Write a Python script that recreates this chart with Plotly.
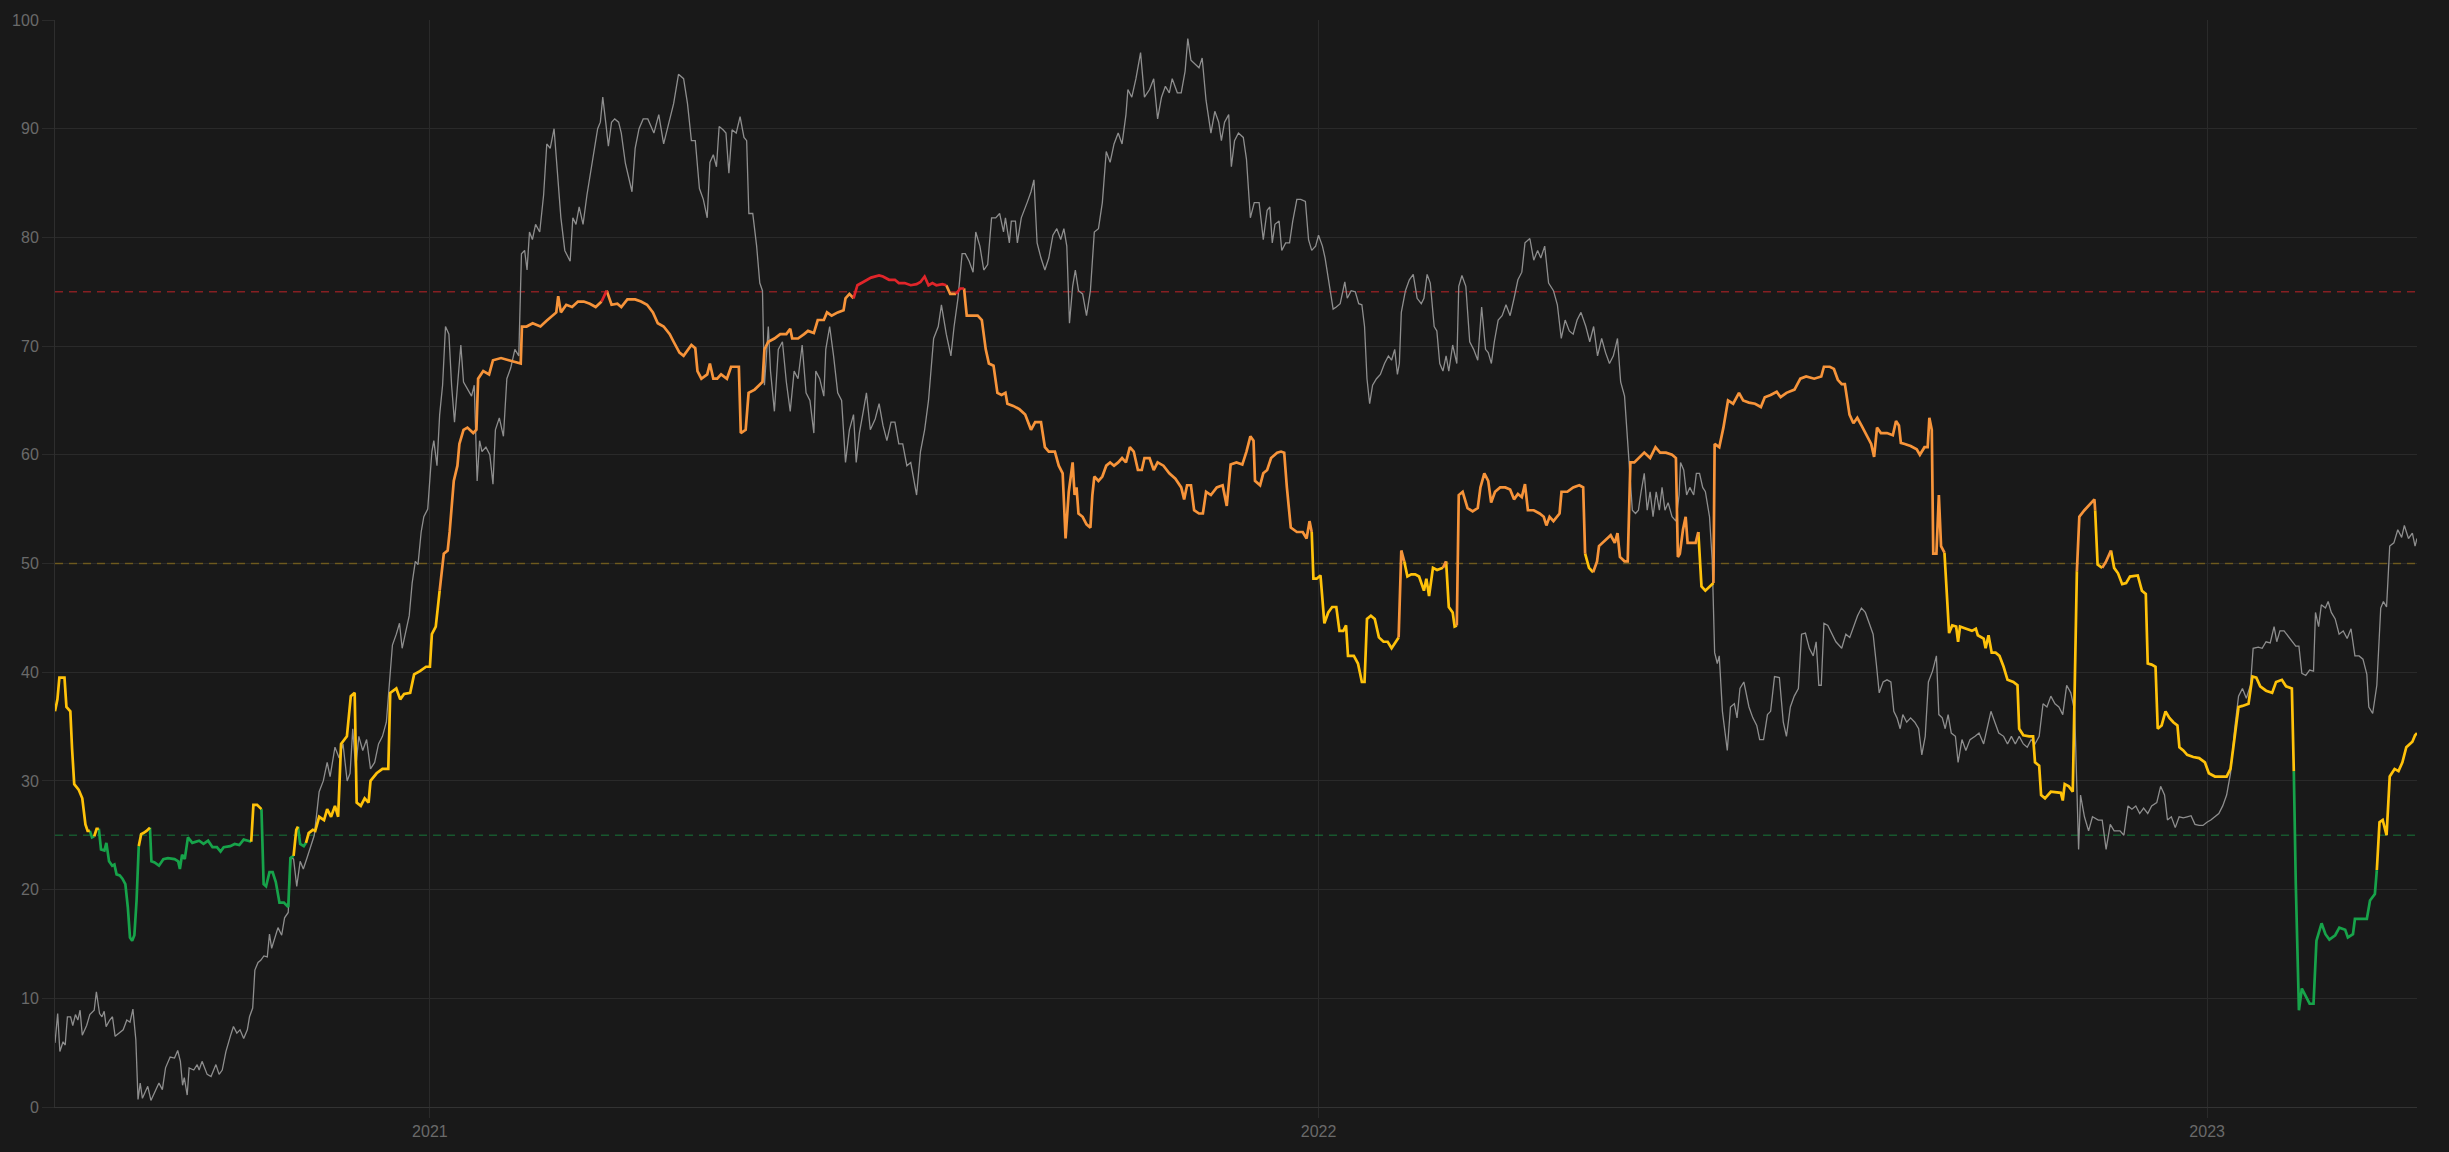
import pandas as pd
import plotly.graph_objects as go

START = "2020-07-31"
END_DAY = 970.2

# daily index (thin grey line): day offset from START, value
grey_days = [0.0,1.1,2.0,3.3,4.2,5.1,6.4,7.3,8.4,9.4,10.3,11.2,13.0,14.3,16.1,17.0,18.3,19.3,20.2,21.0,22.5,23.6,24.7,26.6,28.0,29.5,30.8,32.0,33.2,34.1,35.0,35.9,38.1,39.4,40.9,42.7,44.1,45.4,47.3,49.1,50.4,51.5,52.4,53.1,54.3,55.1,57.0,58.4,59.2,60.4,62.5,64.1,66.1,67.4,68.7,70.2,72.0,73.3,74.7,76.0,77.5,79.0,79.9,81.2,82.1,83.4,84.5,85.8,87.2,88.1,89.0,90.3,91.6,93.1,94.3,95.8,
    96.9,98.0,99.3,100.7,102.0,103.5,105.3,106.5,108.5,110.2,111.8,113.0,115.0,116.7,118.3,120.0,121.2,122.3,123.5,124.8,126.4,128.0,129.6,131.3,132.9,134.5,136.1,137.4,138.6,140.2,141.5,142.6,144.3,145.5,146.7,148.0,149.1,150.4,151.5,153.1,154.8,155.6,156.9,158.0,159.2,160.4,161.8,162.9,164.1,165.4,166.7,167.8,169.4,171.1,172.2,173.4,174.4,175.4,177.0,178.6,179.9,180.9,182.5,184.2,185.6,187.2,188.9,190.5,191.6,192.9,193.9,194.9,196.1,197.4,199.1,200.7,202.0,203.4,205.0,206.7,207.8,209.4,211.6,212.7,214.0,215.3,216.9,218.5,220.2,221.4,222.9,224.0,225.0,226.2,227.3,228.6,229.9,231.5,232.6,234.3,235.9,237.0,238.3,239.9,241.6,
    243.5,246.0,248.0,250.0,252.5,254.1,256.1,258.2,259.8,261.4,263.0,264.7,266.3,267.9,269.0,270.4,271.7,272.8,274.4,275.6,276.8,278.1,279.8,281.4,283.0,284.1,285.0,286.6,288.2,289.5,290.6,291.4,293.0,293.9,295.5,297.1,298.8,300.4,302.0,303.6,305.2,306.9,308.5,310.1,311.7,312.5,314.1,315.8,316.6,318.2,319.8,321.5,323.1,324.7,326.3,328.0,329.1,330.4,332.0,333.3,334.9,336.9,338.5,340.1,341.7,343.4,345.0,346.6,348.2,349.9,351.5,353.9,355.5,357.2,358.8,360.9,362.8,364.1,366.1,368.0,369.3,370.9,372.6,373.9,375.5,377.1,378.2,379.9,381.5,383.1,384.7,386.4,388.0,389.6,390.4,392.0,392.8,394.5,395.3,396.9,399.3,400.9,402.1,403.4,405.0,406.6,408.2,409.9,411.5,413.1,414.4,415.6,416.7,418.0,419.1,420.4,422.1,423.7,425.3,426.9,428.6,430.2,431.8,433.4,435.0,436.7,438.3,439.9,440.7,442.3,444.0,445.9,447.5,449.6,451.3,452.9,454.5,456.1,457.7,458.9,461.0,462.6,464.2,465.3,466.6,468.3,469.9,471.2,472.8,474.8,476.4,478.0,479.1,480.4,482.1,483.2,484.5,486.1,488.1,489.4,491.0,492.6,494.6,
    496.3,497.9,499.0,500.0,501.1,502.8,503.9,505.5,507.1,508.4,510.1,511.7,513.6,514.9,516.2,517.8,519.0,520.6,521.7,523.4,525.0,526.3,527.9,529.8,530.8,532.4,534.1,535.5,536.8,537.9,538.9,540.0,541.2,542.8,544.4,546.1,547.7,549.0,550.3,551.4,552.2,553.0,554.7,556.3,557.9,559.5,561.2,562.3,563.6,564.9,566.5,567.6,568.8,570.1,571.4,572.5,574.1,575.8,576.6,577.9,579.5,581.1,582.7,584.4,586.0,587.6,588.7,590.0,591.2,592.8,594.4,596.0,597.7,599.3,600.9,602.5,603.8,605.8,607.4,609.0,610.3,611.9,613.5,615.5,617.1,618.7,620.3,622.0,623.6,625.2,626.8,628.8,630.4,632.0,633.6,635.3,636.9,638.5,640.1,641.8,643.1,644.7,646.0,647.1,647.9,649.2,650.4,651.5,652.8,654.0,655.2,656.4,657.7,659.0,660.1,661.3,662.6,664.2,665.8,667.1,667.7,669.0,670.2,671.5,673.1,674.2,675.5,676.8,677.9,679.6,680.7,681.7,682.8,683.6,684.9,686.9,688.2,689.8,690.9,692.1,693.7,695.8,697.4,699.0,700.2,701.8,703.4,704.7,706.3,708.3,709.9,711.2,712.8,714.4,716.1,717.4,719.0,720.6,722.2,723.4,724.5,725.5,726.6,728.2,729.9,731.5,733.9,735.6,737.2,738.8,740.4,
    742.0,743.6,745.2,746.8,748.1,749.3,750.9,752.5,754.1,755.3,756.6,757.9,759.0,760.6,762.2,763.9,765.5,766.8,768.2,769.5,771.2,772.8,773.8,775.2,776.4,777.6,778.9,780.6,781.7,783.3,784.9,786.6,788.7,790.3,792.2,793.5,795.2,796.8,798.4,800.4,802.0,803.6,805.2,806.8,808.5,810.1,811.7,813.3,815.0,816.6,818.2,819.8,821.5,823.1,824.7,826.3,828.0,829.6,830.4,831.2,832.0,833.6,835.3,836.9,839.3,840.9,842.5,844.2,845.8,848.2,849.8,851.5,853.1,854.7,856.3,857.9,859.6,861.2,863.3,864.9,866.5,867.7,869.3,870.9,872.5,874.2,875.8,877.4,879.0,880.7,882.3,883.9,885.5,887.2,888.8,890.4,892.0,893.6,895.3,896.9,898.5,900.1,901.8,902.9,905.0,906.6,908.2,909.9,911.5,912.6,913.9,915.6,917.2,918.8,920.4,921.7,922.9,924.5,926.1,927.7,928.5,929.8,930.9,932.6,933.7,935.0,936.6,938.2,939.9,941.5,943.1,944.7,946.4,948.0,949.6,950.4,952.0,953.7,955.3,956.4,957.7,959.0,960.7,962.3,963.9,965.0,966.7,968.3,969.4,970.2]
grey_vals = [5.9,8.6,5.1,6.0,5.7,8.3,8.3,7.5,8.5,8.0,8.9,6.6,7.5,8.5,8.9,10.6,8.6,8.3,8.8,7.4,8.0,8.3,6.5,6.8,7.1,8.0,7.8,9.0,6.2,0.7,2.2,0.8,1.9,0.6,1.4,2.2,1.6,3.6,4.6,4.5,5.2,4.2,2.0,2.7,1.1,3.6,3.4,3.9,3.4,4.2,3.0,2.8,3.9,3.0,3.4,5.1,6.5,7.4,6.8,7.1,6.3,7.1,8.3,9.1,12.6,13.3,13.5,13.9,13.8,15.9,14.6,15.5,16.5,15.8,17.4,17.9,
    23.0,22.8,20.3,22.6,21.9,22.9,24.2,25.0,29.0,30.0,31.7,30.4,33.1,32.1,33.4,30.0,30.7,34.8,31.1,34.1,32.8,33.8,31.1,31.7,33.4,34.1,35.4,39.5,42.5,43.5,44.5,42.2,43.8,45.2,48.2,50.2,49.9,52.9,54.3,55.0,60.3,61.3,59.0,63.7,66.4,71.8,71.1,66.4,63.0,66.4,70.1,66.7,66.0,65.4,66.4,57.6,61.3,60.3,60.7,60.0,57.3,62.3,63.4,61.7,67.0,68.0,69.7,69.1,78.5,78.8,77.0,80.5,79.8,81.2,80.5,83.9,88.6,88.2,90.0,84.5,81.8,78.8,77.8,81.8,81.2,82.8,81.2,83.9,86.2,88.2,90.0,90.6,92.9,90.6,88.4,90.6,90.9,90.6,89.6,86.8,85.2,84.2,88.2,90.0,90.9,
    90.9,89.6,91.3,88.6,90.9,92.3,95.0,94.6,92.3,88.9,88.9,84.5,83.5,81.8,86.9,87.6,86.5,90.2,89.9,89.6,85.9,89.9,89.6,91.1,89.2,88.9,82.2,82.2,79.2,75.8,75.1,66.4,71.8,67.7,64.0,69.7,70.4,66.7,64.0,67.7,67.0,70.1,65.7,65.0,62.0,67.7,67.0,65.4,69.7,71.8,69.1,65.7,65.0,59.3,62.3,63.7,59.3,62.0,64.0,65.7,62.3,63.3,64.7,62.7,61.3,63.0,63.0,61.0,61.0,59.0,59.3,56.3,60.3,62.3,65.0,70.7,71.8,73.8,71.1,69.1,71.8,74.4,78.5,78.5,77.8,76.8,80.5,79.2,77.0,77.5,81.8,81.8,82.2,80.5,81.8,79.5,81.5,81.5,79.5,81.8,83.2,84.2,85.3,79.5,78.1,77.0,78.1,80.2,80.8,79.8,80.8,79.2,72.1,75.5,77.0,75.1,74.8,72.8,75.1,80.5,80.8,83.2,87.9,86.9,88.6,89.6,88.6,91.3,93.6,92.9,94.6,97.0,92.9,93.6,94.6,90.9,92.9,93.9,93.3,94.6,93.3,93.3,95.3,98.3,96.3,95.9,95.6,96.5,92.6,89.6,91.6,90.6,88.9,90.6,91.3,86.5,88.9,89.6,89.2,87.2,81.8,83.2,83.2,
    79.8,82.5,82.8,79.5,81.2,81.5,78.8,79.5,79.5,81.5,83.5,83.5,83.3,79.8,78.8,79.2,80.2,79.2,78.1,75.5,73.4,73.6,73.9,75.9,74.4,75.1,75.0,73.9,73.8,71.8,67.0,64.7,66.4,67.0,67.4,68.4,69.1,68.7,69.7,67.4,68.4,73.1,75.1,76.1,76.6,74.4,73.9,74.4,76.6,75.8,71.8,71.4,68.4,67.7,69.1,67.7,70.1,68.4,75.5,76.5,75.5,70.4,69.7,68.7,73.6,69.7,69.4,68.4,70.4,72.4,72.8,73.8,72.8,74.4,76.1,76.8,79.5,79.9,77.9,78.8,78.1,79.2,75.8,75.1,73.8,70.7,72.4,71.4,71.1,72.4,73.1,71.8,70.4,71.8,69.1,70.7,69.4,68.4,69.1,70.7,66.7,65.4,61.0,57.6,54.9,54.6,54.9,56.6,58.3,54.9,56.6,54.3,56.6,54.9,57.0,54.9,55.6,54.3,53.9,56.3,59.3,58.6,56.3,57.0,56.3,58.3,58.3,57.0,56.6,54.3,50.3,41.8,40.8,41.5,36.4,32.8,36.8,37.1,35.8,38.5,39.1,36.8,35.8,35.1,33.8,33.8,36.1,36.4,39.6,39.5,35.4,34.1,36.8,37.8,38.5,43.5,43.6,42.2,41.5,42.8,38.8,38.8,44.5,44.3,43.5,42.8,42.2,43.5,43.2,44.2,45.2,
    45.9,45.5,44.5,43.5,40.8,38.1,39.1,39.3,39.1,36.4,35.8,34.8,36.1,35.4,35.8,35.4,34.8,32.4,34.1,39.1,40.1,41.5,36.1,35.8,34.8,36.1,34.4,34.1,31.7,33.8,32.8,33.8,34.1,34.4,33.4,34.8,36.4,35.4,34.4,34.1,33.4,34.1,33.4,34.1,33.4,33.1,33.8,33.4,34.1,37.1,36.8,37.8,37.1,36.8,36.1,38.8,38.1,36.4,29.0,23.7,28.7,26.7,25.4,26.7,26.4,26.4,23.7,26.0,25.4,25.4,25.0,27.7,27.4,27.7,27.0,27.5,27.0,27.7,28.0,29.5,28.7,26.4,26.7,25.7,26.7,26.6,26.7,26.8,26.0,25.9,25.9,26.2,26.4,26.7,27.0,27.7,28.7,30.7,34.8,37.8,38.5,37.6,38.8,42.2,42.3,42.2,42.8,42.7,44.2,42.8,43.8,43.8,43.3,42.8,42.4,42.4,39.9,39.7,40.2,40.1,45.5,44.2,46.2,45.9,46.5,45.5,44.9,43.5,43.8,43.1,44.0,41.5,41.5,41.2,39.8,36.8,36.2,38.8,45.9,46.5,46.0,51.6,51.9,53.1,52.4,53.5,52.3,52.8,51.6,52.3]

# smoothed index (thick line coloured by zone): day offset from START, value
avg_days = [0.0,1.0,1.8,3.9,4.7,6.3,7.0,7.9,9.7,11.2,12.5,13.4,14.3,15.2,16.1,17.1,18.0,18.9,20.3,21.1,22.2,23.5,24.4,25.3,26.6,27.7,28.9,29.9,30.8,31.7,32.6,33.5,34.4,35.4,36.3,37.6,39.0,39.6,40.9,42.7,44.5,46.4,49.1,50.6,51.3,52.2,53.3,54.6,56.4,59.2,61.0,62.9,64.7,66.5,68.0,69.3,72.0,73.8,75.7,77.5,79.3,80.6,81.5,83.0,84.8,85.7,86.7,88.1,89.4,90.7,92.2,94.0,95.8,96.7,98.0,99.1,99.8,100.7,102.2,103.1,104.2,105.9,106.9,108.5,110.5,111.8,113.4,115.0,116.3,117.5,119.9,121.5,123.1,123.9,125.6,127.2,128.8,129.6,132.1,134.5,136.9,137.7,140.2,141.8,143.4,145.9,147.5,149.9,152.4,154.0,154.8,156.4,158.0,159.7,161.3,162.1,163.8,165.3,166.1,167.8,169.4,171.8,173.1,173.8,175.9,178.3,179.9,183.2,186.4,189.6,191.3,191.8,193.7,196.2,199.4,201.8,204.3,205.9,206.7,207.8,210.0,212.4,214.8,217.2,219.7,222.1,224.5,226.6,228.6,231.0,232.6,235.1,238.3,240.7,243.2,245.6,247.6,250.0,252.5,254.1,256.5,258.2,259.8,261.4,263.0,263.9,
    265.5,267.9,269.0,270.4,272.0,273.6,276.0,277.7,280.9,281.7,283.7,284.9,287.4,289.8,290.6,291.4,293.0,295.5,297.9,300.4,302.0,302.8,305.2,307.7,309.3,311.7,313.3,315.8,317.1,319.0,321.5,323.9,324.7,326.3,328.0,329.6,332.0,335.2,338.5,340.1,342.6,345.0,346.6,349.0,351.5,353.9,355.5,357.2,358.8,360.4,362.0,364.5,366.1,367.7,370.1,371.8,373.4,374.5,376.6,379.0,380.7,382.3,383.6,385.5,387.1,388.8,390.4,391.2,393.6,396.1,398.5,400.9,402.6,405.0,406.6,408.2,410.7,412.3,413.9,415.1,416.4,418.0,418.8,419.6,420.4,422.1,423.7,425.3,426.1,426.9,428.6,430.2,431.8,433.4,435.0,436.7,438.3,439.9,441.5,443.1,444.8,446.4,447.5,449.6,451.3,452.9,455.3,457.7,460.2,462.6,463.8,465.0,466.6,467.9,469.9,471.5,472.8,474.8,477.2,479.6,481.3,482.9,485.3,487.7,489.4,491.0,492.3,492.9,495.0,
    496.3,497.9,499.5,502.0,503.6,504.9,506.0,507.6,510.1,512.5,514.1,515.3,516.2,516.9,518.2,519.8,521.4,523.0,524.6,526.3,527.6,529.2,530.3,531.1,533.5,535.2,536.8,537.9,538.9,540.5,542.1,543.8,545.7,547.4,549.0,550.9,551.9,553.0,554.2,555.5,557.1,558.7,560.3,562.3,563.3,564.4,566.0,567.7,570.1,571.4,572.5,574.1,574.9,575.8,576.6,578.2,580.2,582.3,584.4,585.5,587.1,588.7,589.9,591.5,593.6,595.7,597.7,599.3,600.9,602.5,603.8,605.0,607.4,609.8,611.5,612.6,613.9,615.5,618.0,618.8,621.2,623.6,626.1,627.7,628.5,630.1,631.8,633.4,634.2,636.6,639.0,640.7,641.8,642.8,644.7,646.0,647.1,648.7,651.2,652.8,655.2,657.4,659.3,661.7,664.2,665.8,666.6,667.4,668.7,669.8,670.6,672.3,673.9,675.0,676.3,677.9,679.6,681.2,681.7,683.6,685.3,687.2,689.3,691.7,693.4,695.8,698.3,700.7,702.3,704.7,707.2,708.8,711.2,714.5,716.9,719.3,722.6,725.5,726.6,729.0,730.7,732.3,733.9,735.2,
    737.1,738.7,740.3,742.0,744.4,746.0,747.2,748.4,750.0,752.5,754.9,756.2,757.4,758.2,759.8,762.2,764.7,766.0,767.9,769.2,769.9,770.9,771.5,772.8,773.8,774.7,776.1,776.9,778.0,779.3,780.9,781.7,782.5,785.0,787.4,789.0,789.8,792.2,793.0,794.2,795.5,797.1,798.7,800.4,802.0,804.4,806.1,806.8,808.5,810.9,812.5,813.3,815.0,815.8,817.4,819.8,822.3,823.9,824.7,825.5,827.2,828.8,830.5,831.5,833.6,835.3,837.7,838.0,839.0,840.9,842.5,844.5,845.8,847.4,849.1,850.7,852.3,855.5,857.2,858.8,859.6,861.2,862.8,863.7,865.3,866.9,868.5,870.1,871.8,872.6,874.2,875.8,878.3,880.7,883.1,884.7,887.2,889.6,892.0,893.6,895.3,896.9,898.5,901.0,902.6,904.2,905.8,908.2,910.7,912.3,914.7,916.4,918.8,919.6,920.4,921.7,922.9,924.5,926.1,927.7,928.9,931.0,932.6,934.2,936.6,938.3,940.7,941.8,943.9,944.7,947.2,949.6,950.9,952.9,953.7,954.8,956.1,957.7,959.0,961.0,962.6,964.2,965.8,968.3,969.4,970.2]
avg_vals = [36.4,37.5,39.5,39.5,36.8,36.4,33.0,29.7,29.2,28.4,26.0,25.4,25.4,24.8,24.9,25.6,25.6,23.7,23.6,24.3,22.6,22.2,22.3,21.4,21.3,21.0,20.5,18.4,15.6,15.3,15.8,19.0,24.0,25.1,25.2,25.4,25.7,22.6,22.5,22.2,22.8,22.9,22.8,22.6,21.9,23.2,22.8,24.8,24.3,24.5,24.2,24.5,23.9,23.9,23.5,23.9,24.0,24.2,24.1,24.6,24.5,24.4,27.8,27.8,27.4,20.5,20.3,21.6,21.6,20.7,18.8,18.8,18.4,22.9,23.1,25.5,25.8,24.2,24.0,24.3,25.2,25.5,25.4,26.7,26.4,27.4,26.7,27.7,26.7,33.4,34.1,37.8,38.1,28.0,27.7,28.4,28.0,30.0,30.7,31.1,31.1,38.1,38.5,37.5,38.0,38.1,39.8,40.1,40.5,40.5,43.5,44.2,47.5,50.9,51.2,52.9,57.6,59.0,61.0,62.3,62.5,62.0,62.3,67.0,67.7,67.4,68.7,68.9,68.7,68.5,68.4,71.8,71.8,72.1,71.8,72.3,72.8,73.1,74.6,73.1,73.8,73.6,74.1,74.1,73.9,73.6,74.1,75.1,73.8,73.9,73.6,74.3,74.3,74.1,73.8,73.1,72.1,71.8,71.1,70.4,69.4,69.1,69.6,70.1,69.8,67.7,
    67.0,67.4,68.4,67.0,67.0,67.4,67.0,68.1,68.1,62.0,62.3,65.7,66.0,66.5,66.7,69.7,70.4,70.7,71.1,71.1,71.6,70.7,70.7,71.1,71.4,71.2,72.4,72.4,73.1,72.8,73.1,73.3,74.4,74.8,74.4,75.6,75.9,76.3,76.5,76.4,76.1,76.1,75.8,75.8,75.6,75.7,75.9,76.4,75.6,75.8,75.6,75.7,75.6,74.8,74.8,75.3,75.3,72.8,72.8,72.8,72.4,69.7,68.4,68.2,65.7,65.5,65.7,64.7,64.5,64.2,63.7,62.3,63.0,63.0,60.7,60.3,60.3,59.0,58.3,52.3,56.6,59.3,56.3,57.0,54.6,54.3,53.6,53.3,56.3,58.0,57.6,58.0,59.0,59.3,59.0,59.3,59.7,59.3,60.7,60.3,58.6,58.6,59.7,59.7,58.6,59.3,59.0,58.3,57.8,57.0,55.9,57.2,57.2,54.9,54.6,54.6,56.6,56.3,57.0,57.2,55.3,59.1,59.3,59.1,60.3,61.7,61.3,57.6,57.2,
    58.3,58.6,59.7,60.2,60.3,60.2,57.0,53.3,52.9,52.9,52.3,53.9,52.9,48.6,48.6,48.9,44.5,45.5,46.0,46.0,43.8,43.8,44.3,41.5,41.5,40.8,39.1,39.1,44.9,45.2,44.9,43.2,42.8,42.8,42.2,42.8,43.2,51.2,50.2,48.8,49.0,49.0,48.8,47.5,48.6,47.0,49.6,49.4,49.6,50.2,46.0,45.5,44.2,44.3,56.3,56.6,55.1,54.8,55.1,57.0,58.3,57.6,55.6,56.6,57.0,57.0,56.8,55.9,56.4,56.1,57.3,54.9,54.9,54.6,54.3,53.5,54.3,53.9,54.6,56.6,56.6,57.0,57.2,57.0,50.9,49.6,49.2,50.2,51.6,52.1,52.6,51.9,52.8,50.6,50.2,50.2,59.3,59.3,59.8,60.2,59.7,60.7,60.2,60.2,60.0,59.7,50.6,50.9,53.1,54.3,51.9,51.9,51.9,52.9,47.9,47.5,47.9,48.2,61.0,60.7,62.5,65.0,64.7,65.7,65.0,64.8,64.7,64.4,65.3,65.5,65.8,65.3,65.7,66.0,67.0,67.2,67.0,67.2,68.1,68.1,67.9,66.9,66.5,66.5,
    63.7,62.9,63.4,62.7,61.6,61.0,59.8,62.5,62.0,62.0,61.8,63.1,62.7,61.1,61.0,60.8,60.5,60.0,60.7,60.7,63.4,62.3,50.9,50.9,56.3,51.6,51.0,48.2,43.6,44.3,44.2,42.8,44.2,44.0,43.8,44.0,43.4,43.1,42.2,43.4,41.8,41.8,41.5,40.5,39.3,39.1,38.8,34.8,34.2,34.1,34.1,31.7,31.4,28.7,28.4,29.0,28.9,28.9,28.2,29.7,29.5,29.0,49.3,54.3,54.9,55.3,55.9,54.9,49.9,49.6,50.2,51.2,49.6,49.1,48.1,48.2,48.8,48.9,47.5,47.2,40.8,40.7,40.5,34.8,35.1,36.4,35.8,35.4,35.1,33.1,32.8,32.4,32.2,32.1,31.7,30.7,30.4,30.4,30.4,31.1,33.8,36.8,36.9,37.1,39.6,39.5,38.7,38.3,38.1,39.1,39.3,38.7,38.5,30.9,20.6,8.9,10.9,10.2,9.5,9.5,15.3,16.9,15.9,15.4,15.8,16.5,16.3,15.6,15.9,17.3,17.3,17.3,19.0,19.6,21.8,26.2,26.4,25.0,30.4,31.1,30.9,31.7,33.1,33.6,34.2,34.4]

# zone thresholds and colours (green < 25 <= yellow < 50 <= orange < 75 <= red)
thresholds = [25, 50, 75]
zone_colors = ["#17a34a", "#ffc20a", "#f7943a", "#e0252a"]
threshold_line_colors = ["rgba(23,163,74,0.45)", "rgba(255,194,10,0.32)", "rgba(224,37,42,0.55)"]

start = pd.Timestamp(START)
to_dates = lambda days: [start + pd.Timedelta(days=float(d)) for d in days]
grey_x = to_dates(grey_days)
avg_x = to_dates(avg_days)
x_end = start + pd.Timedelta(days=END_DAY)


def zone(v):
    for i, t in enumerate(thresholds):
        if v < t:
            return i
    return len(thresholds)


# split the thick line into runs of segments coloured by the zone of each segment end point
runs = []
for i in range(1, len(avg_vals)):
    z = zone(avg_vals[i])
    if runs and runs[-1][0] == z:
        runs[-1][1].append(i)
    else:
        runs.append([z, [i - 1, i]])

fig = go.Figure()

for t, c in zip(thresholds, threshold_line_colors):
    fig.add_trace(go.Scatter(x=[start, x_end], y=[t, t], mode="lines",
                             line=dict(color=c, width=1.5, dash="8px,6px"),
                             hoverinfo="skip", showlegend=False))

fig.add_trace(go.Scatter(x=grey_x, y=grey_vals, mode="lines",
                         line=dict(color="#8e8e8e", width=1.3),
                         showlegend=False))

for z, col in enumerate(zone_colors):
    xs, ys = [], []
    for rz, idx in runs:
        if rz != z:
            continue
        xs += [avg_x[j] for j in idx] + [None]
        ys += [avg_vals[j] for j in idx] + [None]
    if xs:
        fig.add_trace(go.Scatter(x=xs, y=ys, mode="lines", connectgaps=False,
                                 line=dict(color=col, width=2.7),
                                 showlegend=False))

grid = "#2a2a2a"
fig.update_layout(
    width=2449, height=1152,
    margin=dict(l=52, r=32, t=15, b=45),
    paper_bgcolor="#191919", plot_bgcolor="#191919",
    font=dict(family="Liberation Sans, Arial, sans-serif", size=16, color="#6a6a6a"),
    showlegend=False,
    xaxis=dict(type="date", range=[start, x_end], tick0="2021-01-01", dtick="M12",
               tickformat="%Y", showgrid=True, gridcolor=grid, gridwidth=1,
               ticks="outside", ticklen=10, tickcolor=grid, showline=True,
               linecolor="#333333", linewidth=1, zeroline=False),
    yaxis=dict(range=[0, 100], dtick=10, showgrid=True, gridcolor=grid, gridwidth=1,
               ticks="outside", ticklen=12, tickcolor=grid, showline=True,
               linecolor="#2e2e2e", linewidth=1, zeroline=False),
)

fig.write_html("out.html", config={"displayModeBar": False},
               post_script="document.body.style.margin='0';document.body.style.background='#191919';")
